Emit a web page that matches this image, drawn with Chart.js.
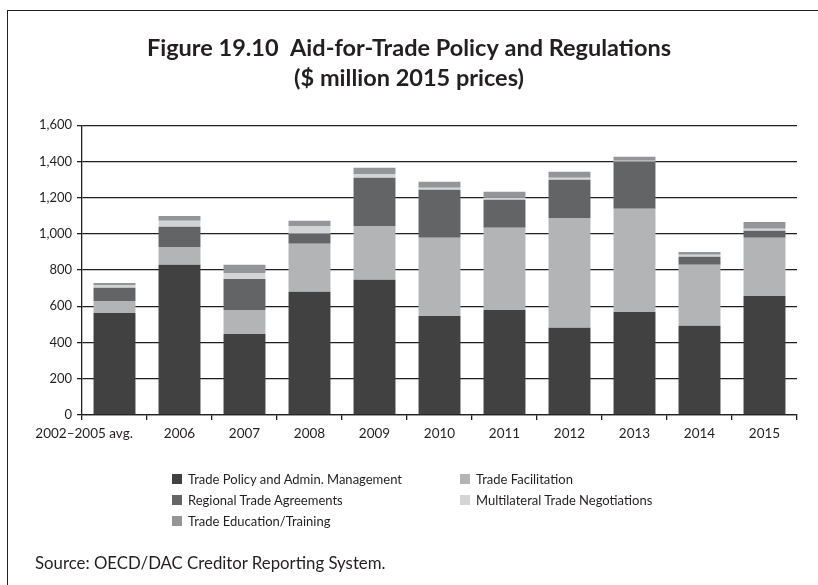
<!DOCTYPE html>
<html>
<head>
<meta charset="utf-8">
<script src="https://cdn.jsdelivr.net/npm/chart.js@4"></script>
<style>
  html, body { margin: 0; padding: 0; background: #fff; }
  #wrap { position: relative; width: 818px; height: 585px; overflow: hidden; }
  #frame { position: absolute; left: 7px; top: 10px; width: 830px; height: 600px;
           border-left: 1.5px solid #231f20; border-top: 1.5px solid #231f20; }
  #cv { position: absolute; left: 0; top: 0; }
  #legend { position: absolute; left: 172px; top: 469px; display: grid;
            grid-template-columns: 288px 260px; row-gap: 2px;
            font-family: Lato, sans-serif; font-size: 13px; color: #231f20; }
  #legend .it { display: flex; align-items: center; height: 19px; white-space: nowrap; }
  #legend .bx { width: 10px; height: 10px; margin-right: 6px; flex: none; }
  #source { position: absolute; left: 35px; top: 552px; font-family: Lato, sans-serif;
            font-size: 16.8px; color: #231f20; }
</style>
</head>
<body>
<div id="wrap">
  <div id="frame"></div>
  <canvas id="cv" width="818" height="585"></canvas>
  <div id="legend"></div>
  <div id="source">Source: OECD/DAC Creditor Reporting System.</div>
</div>
<script>
const categories = ["2002–2005 avg.", "2006", "2007", "2008", "2009", "2010", "2011", "2012", "2013", "2014", "2015"];
const tradePolicyAdmin = [563, 829, 447, 680, 746, 547, 580, 481, 569, 492, 657];
const tradeFacilitation = [67, 99, 133, 265, 298, 431, 453, 607, 569, 337, 321];
const regionalTradeAgreements = [72, 111, 171, 55, 265, 265, 155, 210, 260, 44, 39];
const multilateralNegotiations = [16, 33, 33, 44, 22, 11, 11, 11, 5, 11, 11];
const tradeEducation = [11, 27, 45, 28, 34, 33, 33, 34, 22, 16, 38];
const yTicks = [0, 200, 400, 600, 800, 1000, 1200, 1400, 1600];

const seriesNames = ["Trade Policy and Admin. Management", "Trade Facilitation", "Regional Trade Agreements",
                     "Multilateral Trade Negotiations", "Trade Education/Training"];
const seriesColors = ["#414142", "#b3b4b6", "#636466", "#d3d4d6", "#939598"];
const seriesData = [tradePolicyAdmin, tradeFacilitation, regionalTradeAgreements, multilateralNegotiations, tradeEducation];

const datasets = seriesNames.map((n, i) => ({
  label: n, data: seriesData[i], backgroundColor: seriesColors[i],
  borderWidth: 0, barPercentage: 0.645, categoryPercentage: 1.0
}));

const ink = "#231f20";
new Chart(document.getElementById("cv"), {
  type: "bar",
  data: { labels: categories, datasets },
  options: {
    responsive: false, animation: false,
    layout: { padding: { left: 0, right: 0, top: 0, bottom: 130 } },
    plugins: {
      legend: { display: false },
      tooltip: { enabled: false },
      title: {
        display: true,
        text: ["Figure 19.10  Aid-for-Trade Policy and Regulations", "($ million 2015 prices)"],
        font: { family: "Lato", size: 23.5, weight: "bold", lineHeight: 1.28 },
        color: ink,
        padding: { top: 33, bottom: 32 }
      }
    },
    scales: {
      x: {
        stacked: true,
        grid: { drawOnChartArea: false, drawTicks: true, tickLength: 5, color: ink, lineWidth: 1.3, offset: true },
        border: { color: ink, width: 1.3 },
        ticks: {
          color: ink, font: { family: "Lato", size: 13.5 }, maxRotation: 0, autoSkip: false, padding: 6,
          callback: function (v, i) { const l = this.getLabelForValue(v); return i === 0 ? l + "\u2003\u2003\u2003\u2003\u2003\u2003" : l; }
        },
        afterFit: s => { s.height = 40; }
      },
      y: {
        stacked: true, min: 0, max: 1600,
        afterBuildTicks: s => { s.ticks = yTicks.map(v => ({ value: v })); },
        grid: { color: ink, lineWidth: 1.3, tickLength: 5 },
        border: { color: ink, width: 1.3 },
        ticks: { color: ink, font: { family: "Lato", size: 13 }, padding: 5,
                 callback: v => v.toLocaleString("en-US") },
        afterFit: s => { s.width = 82; }
      },
      yRight: {
        position: "right", display: true,
        grid: { display: false, drawTicks: false }, border: { display: false },
        ticks: { display: false },
        afterFit: s => { s.width = 21; }
      }
    }
  }
});

const lg = document.getElementById("legend");
seriesNames.forEach((n, i) => {
  const d = document.createElement("div"); d.className = "it";
  const b = document.createElement("span"); b.className = "bx"; b.style.background = seriesColors[i];
  const t = document.createElement("span"); t.textContent = n;
  d.appendChild(b); d.appendChild(t); lg.appendChild(d);
});
</script>
</body>
</html>
